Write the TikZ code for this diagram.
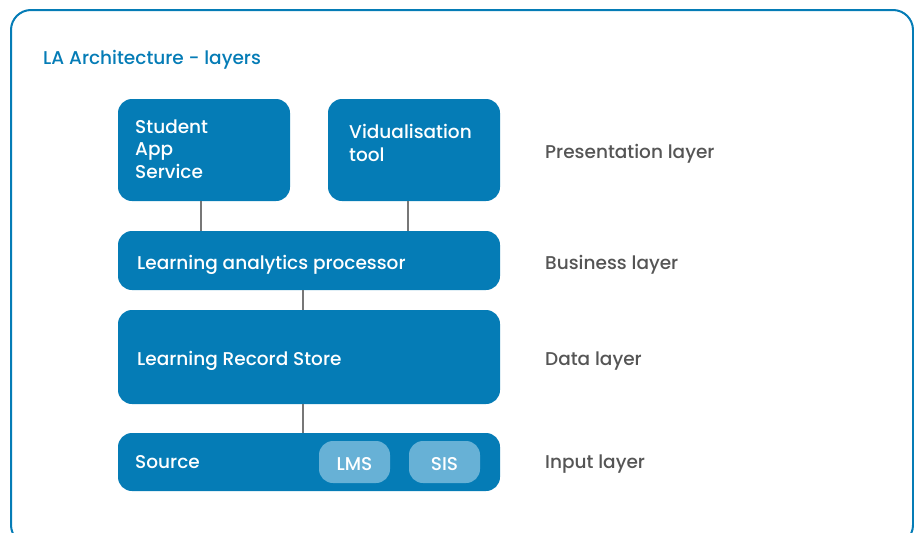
\documentclass[tikz,border=0pt]{standalone}
\usepackage{fontspec}
\setmainfont{Poppins Medium}
\definecolor{boxblue}{HTML}{057CB6}
\definecolor{lightblue}{HTML}{67B1D6}
\definecolor{labelgray}{HTML}{555555}
\definecolor{linegray}{HTML}{777777}
\begin{document}
\begin{tikzpicture}[x=1pt,y=-1pt,
  frame/.style={draw=boxblue,line width=2pt,rounded corners=20pt},
  layerbox/.style={fill=boxblue,rounded corners=14pt},
  subbox/.style={fill=lightblue,rounded corners=14pt},
  boxtext/.style={text=white,font=\fontsize{18.5}{22.5}\selectfont,inner sep=0pt,anchor=base west,align=left},
  subtext/.style={text=white,font=\fontsize{18.5}{22.5}\selectfont,inner sep=0pt,anchor=base},
  layertext/.style={text=labelgray,font=\fontsize{18.5}{22}\selectfont,inner sep=0pt,anchor=base west},
  titletext/.style={text=boxblue,font=\fontsize{18.5}{22}\selectfont,inner sep=0pt,anchor=base west},
  link/.style={draw=linegray,line width=1.5pt}]
\useasboundingbox (0,0) rectangle (914,533);
\draw[frame] (11,10) rectangle (913,545);
\node[titletext] (title) at (43,64) {LA Architecture - layers};

% boxes
\path[layerbox] (118,99) rectangle (290,201);
\coordinate (sasB) at (201,201);
\path[layerbox] (328,99) rectangle (500,201);
\coordinate (visB) at (408,201);
\path[layerbox] (118,231) rectangle (500,290);
\coordinate (lapT1) at (201,231);
\coordinate (lapT2) at (408,231);
\coordinate (lapB) at (303,290);
\path[layerbox] (118,310) rectangle (500,404);
\coordinate (lrsT) at (303,310);
\coordinate (lrsB) at (303,404);
\path[layerbox] (118,433) rectangle (500,491);
\coordinate (srcT) at (303,433);
\path[subbox] (319,441) rectangle (390,483);
\path[subbox] (409,441) rectangle (480,483);

% texts
\node[boxtext] (sas) at (135,178) {Student\\App\\Service};
\node[boxtext] (vis) at (349,161) {Vidualisation\\tool};
\node[boxtext] (lap) at (137,269.5) {Learning analytics processor};
\node[boxtext] (lrs) at (137,365.5) {Learning Record Store};
\node[boxtext] (src) at (135,468.5) {Source};
\node[subtext] (lms) at (354.5,470.5) {LMS};
\node[subtext] (sis) at (444.5,470.5) {SIS};

\node[layertext] (pres) at (545,158.5) {Presentation layer};
\node[layertext] (bus) at (545,269.5) {Business layer};
\node[layertext] (data) at (545,365.5) {Data layer};
\node[layertext] (inp) at (545,468.5) {Input layer};

% connectors
\draw[link] (sasB) -- (lapT1);
\draw[link] (visB) -- (lapT2);
\draw[link] (lapB) -- (lrsT);
\draw[link] (lrsB) -- (srcT);
\end{tikzpicture}
\end{document}
